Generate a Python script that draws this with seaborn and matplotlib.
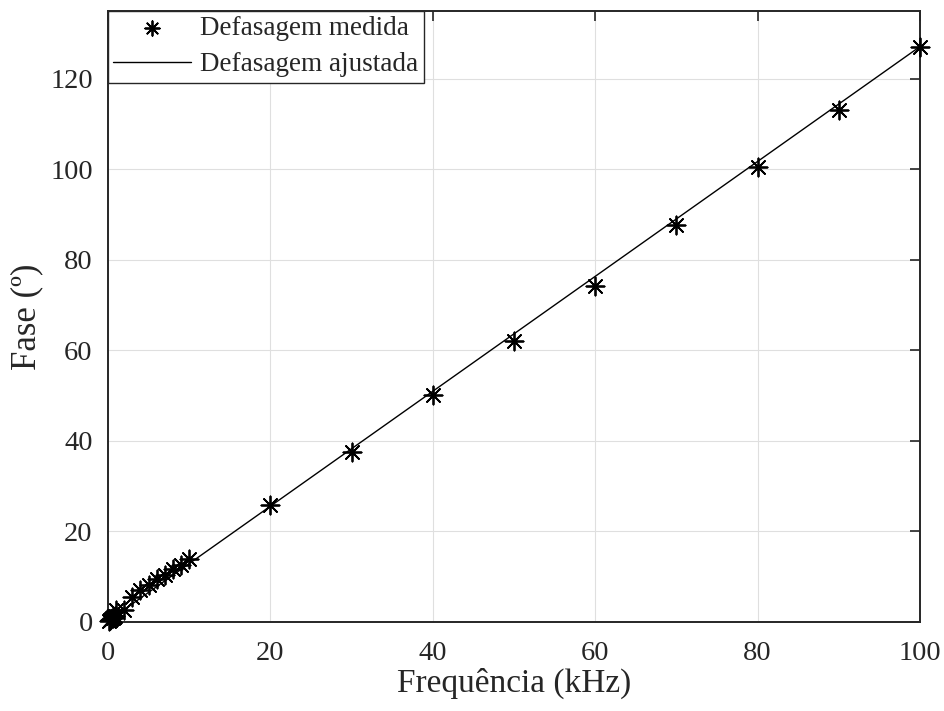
import numpy as np
import pandas as pd
import matplotlib
matplotlib.use("Agg")
import matplotlib.pyplot as plt
import seaborn as sns

# Measured phase shift (degrees) versus frequency (kHz)
freq_khz = [0.1, 0.2, 0.3, 0.4, 0.5, 0.6, 0.7, 0.8, 0.9, 1.0,
            2, 3, 4, 5, 6, 7, 8, 9, 10,
            20, 30, 40, 50, 60, 70, 80, 90, 100]
phase_deg = [0.2, 0.4, 0.5, 0.6, 0.8, 0.9, 1.0, 1.1, 1.3, 2.6,
             2.6, 5.6, 7.0, 8.2, 9.4, 10.4, 11.7, 12.6, 13.9,
             25.8, 37.6, 50.2, 62.1, 74.3, 87.7, 100.5, 113.1, 127.1]

# Linear fit
fit_slope = 1.2695
fit_offset = 0.2
fit_freq = [0, 100]
fit_phase = [fit_offset + fit_slope * f for f in fit_freq]

measured = pd.DataFrame({"f": freq_khz, "fase": phase_deg})
fitted = pd.DataFrame({"f": fit_freq, "fase": fit_phase})

sns.set_theme(style="white")
plt.rcParams["font.family"] = ["Liberation Serif", "DejaVu Serif"]

fig = plt.figure(figsize=(9.44, 7.11), dpi=100)
ax = fig.add_axes([0.1144, 0.1252, 0.8602, 0.8593])

sns.scatterplot(data=measured, x="f", y="fase", ax=ax, marker=(8, 2, 0),
                s=170, color="black", linewidth=1.3, edgecolor="black",
                label="Defasagem medida", zorder=3, clip_on=False)
sns.lineplot(data=fitted, x="f", y="fase", ax=ax, color="black",
             linewidth=1.0, label="Defasagem ajustada", zorder=2)

ax.set_xlim(0, 100)
ax.set_ylim(0, 135)
ax.set_xticks([0, 20, 40, 60, 80, 100])
ax.set_yticks([0, 20, 40, 60, 80, 100, 120])
ax.grid(True, color="#dfdfdf", linewidth=0.8)
ax.set_axisbelow(True)
for s in ax.spines.values():
    s.set_color("#262626")
    s.set_linewidth(1.4)
ax.tick_params(direction="in", length=7, width=1.2, top=True, right=True,
               labelsize=20.5, colors="#262626", labelcolor="#262626")
ax.tick_params(axis="x", pad=14)
ax.tick_params(axis="y", pad=11)
ax.set_xlabel("Frequência (kHz)", fontsize=24, color="#262626", labelpad=1)
ax.set_ylabel("Fase (º)", fontsize=25, color="#262626", labelpad=5)

leg = ax.legend(loc="upper left", fontsize=19.5, frameon=True, fancybox=False,
                borderaxespad=0, handlelength=2.85, handletextpad=0.35,
                borderpad=0.2, labelspacing=0.4, markerscale=0.8)
leg.get_frame().set_edgecolor("#262626")
leg.get_frame().set_linewidth(1.0)
leg.get_frame().set_alpha(1)

fig.savefig("out.png", dpi=100)
